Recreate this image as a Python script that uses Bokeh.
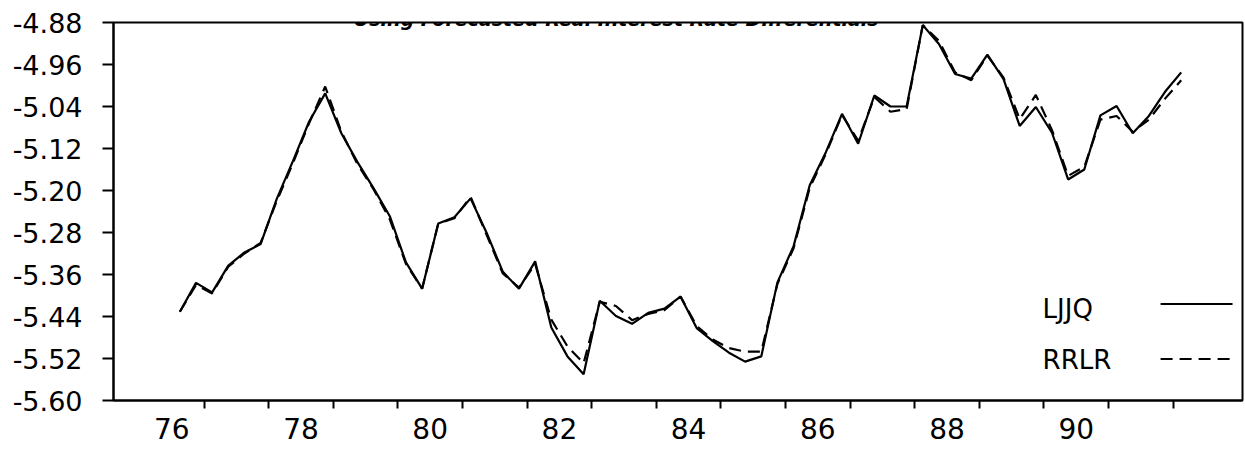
from bokeh.plotting import figure
from bokeh.models import Range1d, FixedTicker, Label, Arrow
from bokeh.embed import file_html
from bokeh.resources import INLINE

# ---------------- data ----------------
quarters = [
    "1976Q3", "1976Q4",
    "1977Q1", "1977Q2", "1977Q3", "1977Q4",
    "1978Q1", "1978Q2", "1978Q3", "1978Q4",
    "1979Q1", "1979Q2", "1979Q3", "1979Q4",
    "1980Q1", "1980Q2", "1980Q3", "1980Q4",
    "1981Q1", "1981Q2", "1981Q3", "1981Q4",
    "1982Q1", "1982Q2", "1982Q3", "1982Q4",
    "1983Q1", "1983Q2", "1983Q3", "1983Q4",
    "1984Q1", "1984Q2", "1984Q3", "1984Q4",
    "1985Q1", "1985Q2", "1985Q3", "1985Q4",
    "1986Q1", "1986Q2", "1986Q3", "1986Q4",
    "1987Q1", "1987Q2", "1987Q3", "1987Q4",
    "1988Q1", "1988Q2", "1988Q3", "1988Q4",
    "1989Q1", "1989Q2", "1989Q3", "1989Q4",
    "1990Q1", "1990Q2", "1990Q3", "1990Q4",
    "1991Q1", "1991Q2", "1991Q3", "1991Q4",
    "1992Q1",
]

ljjq = [
    -5.431, -5.376,
    -5.394, -5.343, -5.318, -5.302,
    -5.216, -5.144, -5.069, -5.015,
    -5.091, -5.146, -5.196, -5.249,
    -5.337, -5.387, -5.263, -5.251,
    -5.215, -5.281, -5.355, -5.387,
    -5.335, -5.461, -5.516, -5.550,
    -5.410, -5.439, -5.454, -5.433,
    -5.425, -5.402, -5.462, -5.487,
    -5.509, -5.526, -5.516, -5.375,
    -5.306, -5.190, -5.127, -5.054,
    -5.111, -5.019, -5.040, -5.040,
    -4.885, -4.921, -4.978, -4.987,
    -4.941, -4.988, -5.077, -5.041,
    -5.090, -5.179, -5.160, -5.057,
    -5.039, -5.091, -5.058, -5.012,
    -4.975,
]

rrlr = [
    -5.431, -5.380,
    -5.396, -5.345, -5.320, -5.300,
    -5.220, -5.148, -5.072, -5.002,
    -5.088, -5.150, -5.198, -5.255,
    -5.340, -5.387, -5.263, -5.253,
    -5.212, -5.285, -5.358, -5.385,
    -5.340, -5.446, -5.497, -5.529,
    -5.412, -5.420, -5.447, -5.435,
    -5.428, -5.402, -5.458, -5.484,
    -5.500, -5.507, -5.507, -5.378,
    -5.310, -5.195, -5.130, -5.056,
    -5.105, -5.022, -5.050, -5.045,
    -4.885, -4.915, -4.975, -4.990,
    -4.943, -4.985, -5.064, -5.018,
    -5.085, -5.172, -5.155, -5.065,
    -5.058, -5.088, -5.065, -5.025,
    -4.990,
]

x_tick_pos = [1976.5, 1978.5, 1980.5, 1982.5, 1984.5, 1986.5, 1988.5, 1990.5]
x_tick_labels = ["76", "78", "80", "82", "84", "86", "88", "90"]
x_year_ticks = [1977, 1978, 1979, 1980, 1981, 1982, 1983, 1984,
                1985, 1986, 1987, 1988, 1989, 1990, 1991, 1992]
y_ticks = [-5.60, -5.52, -5.44, -5.36, -5.28, -5.20, -5.12, -5.04, -4.96, -4.88]
y_tick_labels = ["-5.60", "-5.52", "-5.44", "-5.36", "-5.28",
                 "-5.20", "-5.12", "-5.04", "-4.96", "-4.88"]

title_text = "Using Forecasted Real Interest Rate Differentials"
series_names = ["LJJQ", "RRLR"]


def qpos(s):
    yr = int(s[:4])
    q = int(s[-1])
    return yr + (q - 0.5) / 4.0


x = [qpos(s) for s in quarters]

FONT = "DejaVu Sans"

p = figure(width=1245, height=459, output_backend="svg", toolbar_location=None,
           x_range=Range1d(1975.598, 1993.074), y_range=Range1d(-5.60, -4.88),
           min_border_left=113, min_border_right=3, min_border_top=22,
           min_border_bottom=59)

p.background_fill_color = "white"
p.border_fill_color = "white"
p.outline_line_color = "black"
p.outline_line_width = 2
p.xgrid.grid_line_color = None
p.ygrid.grid_line_color = None

# x axis
xa = p.xaxis[0]
xa.ticker = FixedTicker(ticks=x_tick_pos, minor_ticks=x_year_ticks)
xa.major_label_overrides = {t: l for t, l in zip(x_tick_pos, x_tick_labels)}
xa.major_tick_out = 0
xa.major_tick_in = 0
xa.minor_tick_out = 8
xa.minor_tick_in = 0
xa.minor_tick_line_color = "black"
xa.minor_tick_line_width = 2
xa.axis_line_color = "black"
xa.axis_line_width = 2
xa.major_label_text_font = FONT
xa.major_label_text_font_size = "28px"
xa.major_label_text_color = "black"
xa.major_label_standoff = 9

# y axis
ya = p.yaxis[0]
ya.ticker = FixedTicker(ticks=y_ticks, minor_ticks=[])
ya.major_label_overrides = {t: l for t, l in zip(y_ticks, y_tick_labels)}
ya.major_tick_out = 11
ya.major_tick_in = 0
ya.major_tick_line_width = 2
ya.major_tick_line_color = "black"
ya.minor_tick_out = 0
ya.minor_tick_in = 0
ya.axis_line_color = "black"
ya.axis_line_width = 2
ya.major_label_text_font = FONT
ya.major_label_text_font_size = "27px"
ya.major_label_text_color = "black"
ya.major_label_standoff = 20

# series
p.line(x, ljjq, line_color="black", line_width=2.2)
p.line(x, rrlr, line_color="black", line_width=2.2, line_dash="12 7")

# title above the frame
p.add_layout(Label(x=1983.38, y=-4.8724, text=title_text, text_align="center",
                   text_baseline="alphabetic", text_font=FONT,
                   text_font_style="bold italic", text_font_size="19px",
                   text_color="black"))

# legend: label on the left, sample line on the right
p.add_layout(Label(x=1989.98, y=-5.425, text=series_names[0], text_align="left",
                   text_baseline="middle", text_font=FONT, text_font_size="26px",
                   text_color="black"))
p.add_layout(Label(x=1989.98, y=-5.523, text=series_names[1], text_align="left",
                   text_baseline="middle", text_font=FONT, text_font_size="26px",
                   text_color="black"))
p.add_layout(Arrow(start=None, end=None, x_start=1991.806, y_start=-5.416,
                   x_end=1992.92, y_end=-5.416, line_color="black", line_width=2))
p.add_layout(Arrow(start=None, end=None, x_start=1991.806, y_start=-5.521,
                   x_end=1992.92, y_end=-5.521, line_color="black", line_width=2,
                   line_dash="12 7"))

open("out.html", "w").write(file_html(p, INLINE))
